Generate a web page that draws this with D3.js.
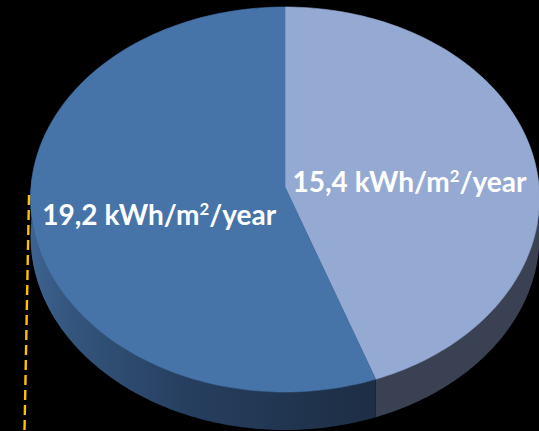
<!DOCTYPE html>
<html>
<head>
<meta charset="utf-8">
<script src="https://cdn.jsdelivr.net/npm/d3@7"></script>
<style>
  html, body { margin: 0; padding: 0; background: #000; }
  svg { display: block; }
</style>
</head>
<body>
<svg id="chart" width="539" height="431"></svg>
<script>
// Annual energy use, two shares (kWh/m²/year)
const values = [15.4, 19.2];
const labelNumbers = ["15,4", "19,2"];
const labelUnit = ["kWh/m", "2", "/year"];
const topColors = ["#95aad2", "#4674a9"];
const sideColors = ["#3a4153", null]; // second side uses a gradient

const W = 539, H = 431;
const svg = d3.select("#chart");
svg.append("rect").attr("width", W).attr("height", H).attr("fill", "#000");

// Tilted-disc projection: angle clockwise from 12 o'clock, radius fraction, vertical drop
const cx = 285, cy = 187, rx = 254, ry = 192.5, persp = 12.5, widen = 0.06, depth = 38;
function project(theta, r, z) {
  const s = Math.sin(theta), d = -Math.cos(theta);
  return [cx + rx * r * s * (1 + widen * r * d),
          cy + ry * r * d + persp * (r * d) * (r * d) + (z || 0)];
}

const pie = d3.pie().sort(null).value(v => v)(values);

const defs = svg.append("defs");
const sideGrad = defs.append("linearGradient")
  .attr("id", "sideDark").attr("gradientUnits", "userSpaceOnUse")
  .attr("x1", 30).attr("y1", 0).attr("x2", 376).attr("y2", 0);
sideGrad.append("stop").attr("offset", 0).attr("stop-color", "#3d6390");
sideGrad.append("stop").attr("offset", 0.12).attr("stop-color", "#34557d");
sideGrad.append("stop").attr("offset", 0.45).attr("stop-color", "#263f5f");
sideGrad.append("stop").attr("offset", 1).attr("stop-color", "#1d2d44");

const line = d3.line();
const STEPS = 120;

// Visible front wall runs from the rightmost to the leftmost point of the rim
const frontStart = Math.PI / 2 - 0.06, frontEnd = 3 * Math.PI / 2 + 0.06;

pie.forEach((p, i) => {
  const a0 = Math.max(p.startAngle, frontStart), a1 = Math.min(p.endAngle, frontEnd);
  if (a1 <= a0) return;
  const top = d3.range(STEPS + 1).map(k => project(a0 + (a1 - a0) * k / STEPS, 1, 0));
  const bot = top.map(pt => [pt[0], pt[1] + depth]).reverse();
  const fill = sideColors[i] || "url(#sideDark)";
  svg.append("path")
    .attr("d", line(top.concat(bot)) + "Z")
    .attr("fill", fill);
});

// Top faces
pie.forEach((p, i) => {
  const pts = [project(0, 0, 0)];
  for (let k = 0; k <= STEPS; k++) {
    pts.push(project(p.startAngle + (p.endAngle - p.startAngle) * k / STEPS, 1, 0));
  }
  svg.append("path").attr("d", line(pts) + "Z")
    .attr("fill", topColors[i])
    .attr("stroke", topColors[i]).attr("stroke-width", 0.6).attr("stroke-linejoin", "round");
});

// Value labels placed halfway out along each slice's middle angle
const targetWidth = 234;
pie.forEach((p, i) => {
  const mid = (p.startAngle + p.endAngle) / 2;
  const [lx, ly] = project(mid, 0.5, 0);
  const t = svg.append("text")
    .attr("x", lx).attr("y", ly + 21)
    .attr("text-anchor", "middle")
    .attr("fill", "#fff")
    .attr("font-family", "Lato, 'Open Sans', sans-serif")
    .attr("font-weight", 700)
    .attr("font-size", 25);
  t.append("tspan").text(labelNumbers[i] + " " + labelUnit[0]);
  t.append("tspan").attr("font-size", 15).attr("dy", -10).text(labelUnit[1]);
  t.append("tspan").attr("dy", 10).text(labelUnit[2]);
  const w = t.node().getComputedTextLength();
  const f = targetWidth / w;
  t.attr("font-size", 25 * f);
  t.selectAll("tspan").filter((d, k) => k === 1).attr("font-size", 15 * f);
});

// Dashed marker on the left
svg.append("line")
  .attr("x1", 29).attr("y1", 195).attr("x2", 24.5).attr("y2", 431)
  .attr("stroke", "#ffc000").attr("stroke-width", 2.4)
  .attr("stroke-dasharray", "10,5");
</script>
</body>
</html>
